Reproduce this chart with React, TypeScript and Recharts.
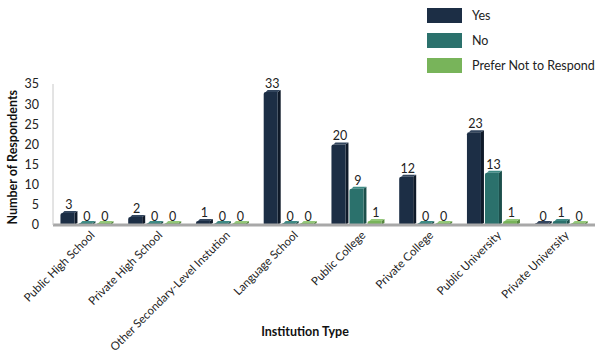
import { Bar, BarChart, LabelList, ReferenceLine, XAxis, YAxis } from "recharts";

const categories = [
  "Public High School",
  "Private High School",
  "Other Secondary-Level Instution",
  "Language School",
  "Public College",
  "Private College",
  "Public University",
  "Private University",
];
const yesValues = [3, 2, 1, 33, 20, 12, 23, 0];
const noValues = [0, 0, 0, 0, 9, 0, 13, 1];
const preferValues = [0, 0, 0, 0, 1, 0, 1, 0];
const yTicks = [0, 5, 10, 15, 20, 25, 30, 35];

const SERIES = [
  { key: "yes", label: "Yes", color: "#1c2e45", side: "#0f1a29", top: "#33465e" },
  { key: "no", label: "No", color: "#2b716c", side: "#1c4f4b", top: "#3e8a84" },
  { key: "prefer", label: "Prefer Not to Respond", color: "#78b45a", side: "#56883e", top: "#93c878" },
];

const data = categories.map((name, i) => ({
  name,
  yes: yesValues[i],
  no: noValues[i],
  prefer: preferValues[i],
}));

const FONT = "Lato, 'Open Sans', sans-serif";

// 擬似3Dの棒: 正面 + 右側面 + 上面。0 のときも床の厚みだけ描く
function Bar3D(props: any) {
  const { x, y, width, height, fill, side, top } = props;
  const d = 3;
  const h = Math.max(height, 2);
  const yy = y + height - h;
  const fw = width - d;
  return (
    <g>
      <path
        d={`M${x + fw},${yy} L${x + width},${yy - d + 1} L${x + width},${yy + h - d + 1} L${x + fw},${yy + h} Z`}
        fill={side}
      />
      <path
        d={`M${x + 2},${yy} L${x + d + 1},${yy - d + 1} L${x + width},${yy - d + 1} L${x + fw},${yy} Z`}
        fill={top}
      />
      <path
        d={`M${x},${yy + h} L${x},${yy + Math.min(2, h)} Q${x},${yy} ${x + 2},${yy} L${x + fw},${yy} L${x + fw},${yy + h} Z`}
        fill={fill}
      />
    </g>
  );
}

function CategoryTick({ x, y, payload }: any) {
  return (
    <text
      x={x}
      y={y}
      transform={`rotate(-45, ${x}, ${y})`}
      textAnchor="end"
      fontSize={11.5}
      fill="#222"
      fontFamily={FONT}
      dx={4}
      dy={8}
    >
      {payload.value}
    </text>
  );
}

function LegendBox() {
  return (
    <div style={{ fontFamily: FONT, fontSize: 12.5, color: "#222" }}>
      {SERIES.map((s) => (
        <div key={s.key} style={{ display: "flex", alignItems: "center", height: 25, whiteSpace: "nowrap" }}>
          <span style={{ width: 35, height: 15, background: s.color, display: "inline-block" }} />
          <span style={{ marginLeft: 10 }}>{s.label}</span>
        </div>
      ))}
    </div>
  );
}

export default function App() {
  return (
    <div style={{ position: "absolute", left: 0, top: 0, width: 600, height: 353, background: "#fff" }}>
      <BarChart
        width={600}
        height={353}
        data={data}
        margin={{ top: 84, right: 5, bottom: 0, left: 0 }}
        barCategoryGap="11%"
        barGap={1}
      >
        <XAxis
          dataKey="name"
          interval={0}
          tick={<CategoryTick />}
          tickLine={false}
          axisLine={false}
          height={128}
        />
        <YAxis
          domain={[0, 35]}
          ticks={yTicks}
          interval={0}
          width={53}
          tickLine={false}
          axisLine={{ stroke: "#c8c8c8" }}
          tick={{ fill: "#222", fontSize: 12.5, fontFamily: FONT }}
          tickMargin={8}
          label={{
            value: "Number of Respondents",
            angle: -90,
            position: "insideLeft",
            dx: 8,
            dy: 70,
            style: { fontWeight: 700, fontSize: 12.5, fill: "#111", fontFamily: FONT },
          }}
        />
        <ReferenceLine y={0} stroke="#a8a8a8" strokeWidth={3} />
        {SERIES.map((s) => (
          <Bar
            key={s.key}
            dataKey={s.key}
            name={s.label}
            fill={s.color}
            isAnimationActive={false}
            shape={(p: any) => <Bar3D {...p} side={s.side} top={s.top} />}
          >
            <LabelList
              dataKey={s.key}
              position="top"
              offset={4}
              fill="#222"
              stroke="none"
              fontSize={12.5}
              fontFamily={FONT}
            />
          </Bar>
        ))}
      </BarChart>
      <div style={{ position: "absolute", left: 427, top: 3 }}>
        <LegendBox />
      </div>
      <div
        style={{
          position: "absolute",
          left: 0,
          width: 610,
          top: 324,
          textAlign: "center",
          fontFamily: FONT,
          fontWeight: 700,
          fontSize: 12.5,
          color: "#111",
        }}
      >
        Institution Type
      </div>
    </div>
  );
}
